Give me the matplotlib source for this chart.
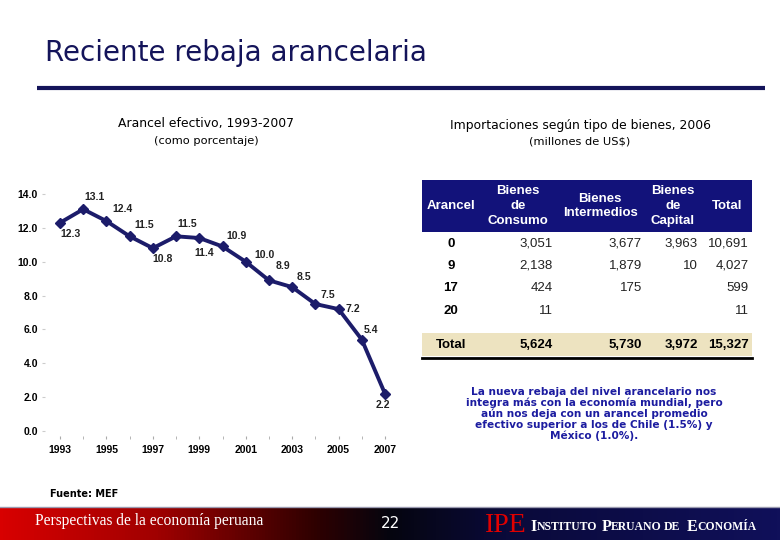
import numpy as np
import matplotlib
matplotlib.use("Agg")
import matplotlib.pyplot as plt
from matplotlib.colors import LinearSegmentedColormap
from matplotlib.patches import Rectangle

# ── data ──
years = [1993, 1994, 1995, 1996, 1997, 1998, 1999, 2000,
         2001, 2002, 2003, 2004, 2005, 2006, 2007]
arancel = [12.3, 13.1, 12.4, 11.5, 10.8, 11.5, 11.4, 10.9,
           10.0, 8.9, 8.5, 7.5, 7.2, 5.4, 2.2]
year_ticks = [1993, 1995, 1997, 1999, 2001, 2003, 2005, 2007]
y_ticks = [0.0, 2.0, 4.0, 6.0, 8.0, 10.0, 12.0, 14.0]

tab_header = ["Arancel", "Bienes\nde\nConsumo", "Bienes\nIntermedios",
              "Bienes\nde\nCapital", "Total"]
tab_arancel = ["0", "9", "17", "20"]
tab_consumo = ["3,051", "2,138", "424", "11"]
tab_intermedios = ["3,677", "1,879", "175", ""]
tab_capital = ["3,963", "10", "", ""]
tab_total = ["10,691", "4,027", "599", "11"]
tab_sum = ["Total", "5,624", "5,730", "3,972", "15,327"]

W, H = 780, 540
NAVY = "#14145a"
LINE = "#1c1c6a"

fig = plt.figure(figsize=(W / 100, H / 100), dpi=100)

# overlay in pixel coords for slide decoration
bg = fig.add_axes([0, 0, 1, 1])
bg.set_xlim(0, W)
bg.set_ylim(H, 0)
bg.axis("off")

bg.text(45, 53, "Reciente rebaja arancelaria", fontsize=20, color=NAVY,
        family="DejaVu Sans", va="center", ha="left")
bg.plot([37, 765], [88, 88], color=NAVY, lw=3, solid_capstyle="butt")

bg.text(206, 124, "Arancel efectivo, 1993-2007", fontsize=8.9, ha="center", va="center")
bg.text(206, 141, "(como porcentaje)", fontsize=8.2, ha="center", va="center")
bg.text(580, 125, "Importaciones según tipo de bienes, 2006", fontsize=8.9,
        ha="center", va="center")
bg.text(580, 142, "(millones de US$)", fontsize=8.2, ha="center", va="center")

# ── table ──
tx0, tx1 = 422, 752
bg.add_patch(Rectangle((tx0, 180), tx1 - tx0, 52, color="#12127a", lw=0))
head_x = [451, 518, 600, 673, 727]
for hx, h in zip(head_x, tab_header):
    bg.text(hx, 206, h, color="white", fontweight="bold", fontsize=9.5,
            family="Liberation Sans", ha="center", va="center", linespacing=1.3)

right_x = [553, 642, 698, 749]
row_y = [244, 266, 288, 311]
cols = [tab_consumo, tab_intermedios, tab_capital, tab_total]
for i, ry in enumerate(row_y):
    bg.text(head_x[0], ry, tab_arancel[i], fontweight="bold", fontsize=9.5,
            family="Liberation Sans", ha="center", va="center")
    for cx, col in zip(right_x, cols):
        bg.text(cx, ry, col[i], fontsize=9.5, family="Liberation Sans",
                ha="right", va="center", color="#222222")

bg.add_patch(Rectangle((tx0, 333), tx1 - tx0, 23, color="#ede3c0", lw=0))
bg.plot([tx0, tx1], [357.5, 357.5], color="black", lw=2)
bg.text(head_x[0], 345, tab_sum[0], fontweight="bold", fontsize=9.5,
        family="Liberation Sans", ha="center", va="center")
for cx, v in zip(right_x, tab_sum[1:]):
    bg.text(cx, 345, v, fontweight="bold", fontsize=9.5, family="Liberation Sans",
            ha="right", va="center")

note = ("La nueva rebaja del nivel arancelario nos\n"
        "integra más con la economía mundial, pero\n"
        "aún nos deja con un arancel promedio\n"
        "efectivo superior a los de Chile (1.5%) y\n"
        "México (1.0%).")
bg.text(594, 414, note, color="#1c1ca0", fontweight="bold", fontsize=7.6,
        ha="center", va="center", linespacing=1.08)

bg.text(50, 494, "Fuente: MEF", fontsize=7, fontweight="bold",
        family="Liberation Sans Narrow", va="center")

# ── footer band ──
band = fig.add_axes([0, 0, 1, 32 / H])
cmap = LinearSegmentedColormap.from_list(
    "band", [(0, "#d80000"), (0.2, "#a00000"), (0.4, "#300000"),
             (0.5, "#05050f"), (0.65, "#0a0a3a"), (1, "#10105a")])
band.imshow(np.linspace(0, 1, 256)[None, :], aspect="auto", cmap=cmap,
            extent=[0, W, 0, 32])
band.set_xlim(0, W)
band.set_ylim(0, 32)
band.axis("off")
band.text(35, 19, "Perspectivas de la economía peruana", color="white",
          family="Liberation Serif", fontsize=11.2, va="center")
band.text(390, 16, "22", color="white", fontsize=11, ha="center", va="center")
band.text(485, 14, "IPE", color="#e00000", family="Liberation Serif",
          fontsize=20, va="center")
caps = [(530, "I", 11.5), (537, "NSTITUTO", 8.5), (602, "P", 11.5),
        (611, "ERUANO", 8.5), (664, "DE", 8.5), (686.5, "E", 11.5),
        (697.5, "CONOMÍA", 8.4)]
for cx, s, fs in caps:
    band.text(cx, 13, s, color="white", family="Liberation Serif",
              fontsize=fs, va="center", fontweight="bold")
fig.add_artist(plt.Line2D([0, 1], [33 / H, 33 / H], color="#9a9ab0", lw=1))

# ── line chart ──
# pixel frame: x 1993->60, 2007->385 ; y 0->431, 14->194
px_year = (385 - 60) / 14
px_unit = (431 - 194) / 14
ax_l, ax_r = 45, 400
ax_t, ax_b = 186, 436
ax = fig.add_axes([ax_l / W, 1 - ax_b / H, (ax_r - ax_l) / W, (ax_b - ax_t) / H])
ax.set_xlim(1993 - (60 - ax_l) / px_year, 2007 + (ax_r - 385) / px_year)
ax.set_ylim(-(ax_b - 431) / px_unit, 14 + (194 - ax_t) / px_unit)
ax.patch.set_alpha(0)

ax.plot(years, arancel, color=LINE, lw=2.8, marker="D", ms=5, zorder=3)

offsets = [(0, -8), (0.7, 8.6), (4.3, 8.6), (3.6, 8), (-0.7, -8), (0.7, 8.6),
           (-3.6, -10.5), (3, 7.5), (6.5, 4.5), (5, 10), (3.5, 7), (3.5, 6.5),
           (5, 0), (1.5, 7), (-6.5, -8)]
for x, v, (dx, dy) in zip(years, arancel, offsets):
    ax.annotate(f"{v:.1f}", (x, v), xytext=(dx, dy), textcoords="offset points",
                fontsize=7.5, fontweight="bold", family="Liberation Sans",
                ha="left", va="center", color="#222222")

for s in ax.spines.values():
    s.set_visible(False)
ax.set_xticks(year_ticks)
ax.set_xticklabels([str(y) for y in year_ticks], fontsize=7.5, fontweight="bold",
                   family="Liberation Sans")
ax.set_xticks(years, minor=True)
ax.tick_params(axis="x", which="both", length=2.5, color="#aaaaaa", pad=4)
ax.set_yticks(y_ticks)
ax.set_yticklabels([f"{t:.1f}" for t in y_ticks], fontsize=7.5, fontweight="bold",
                   family="Liberation Sans")
ax.tick_params(axis="y", length=2, color="#cccccc", pad=3)

fig.savefig("out.png", dpi=100)
